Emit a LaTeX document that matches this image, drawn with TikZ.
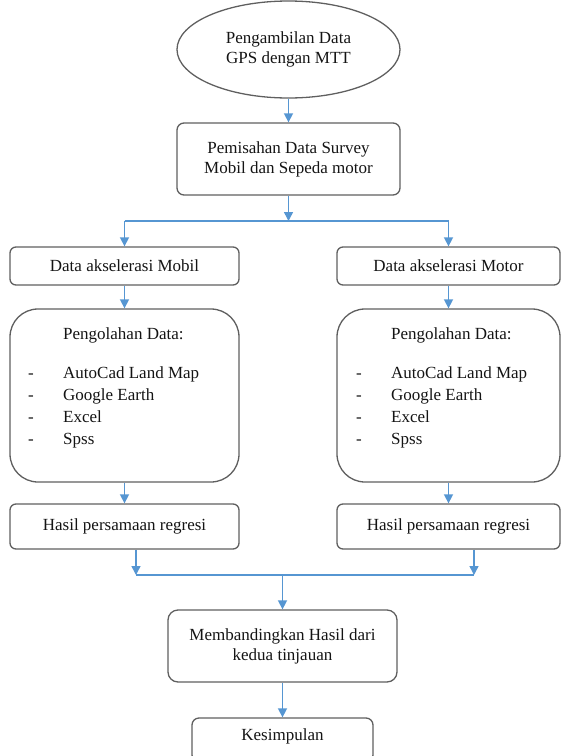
\documentclass[tikz,border=0pt]{standalone}
\usepackage{fontspec}
\setmainfont{Liberation Serif}
\usetikzlibrary{shapes.geometric,arrows.meta}
\definecolor{flowblue}{RGB}{86,150,210}
\definecolor{boxgray}{RGB}{95,95,95}
\definecolor{txtgray}{RGB}{20,20,20}
\tikzset{
    stepbox/.style={draw=boxgray,line width=1.3pt,rounded corners=7pt,text=txtgray,
        align=center,inner sep=0pt,font=\fontsize{17}{20}\selectfont},
    listtext/.style={text=txtgray,inner sep=0pt,anchor=base west,
        font=\fontsize{17}{22.3}\selectfont},
    flow/.style={draw=flowblue,line width=1.5pt,-{Triangle[width=9pt,length=9pt]}},
    link/.style={draw=flowblue,line width=1.5pt},
}
\newcommand{\olahlist}{%
    \begin{tabular}[t]{@{}p{35pt}@{}l@{}}
        & Pengolahan Data:\\[16.7pt]
        - & AutoCad Land Map\\
        - & Google Earth\\
        - & Excel\\
        - & Spss
    \end{tabular}}
\begin{document}
\begin{tikzpicture}[x=1pt,y=-1pt]
        \useasboundingbox (0,0) rectangle (562,756);
        %% start and split
        \node[stepbox,ellipse,minimum width=223pt,minimum height=97pt] (start) at (288.5,49.5) {Pengambilan Data\\GPS dengan MTT};
        \node[stepbox,minimum width=223pt,minimum height=72pt] (sep) at (288.5,159) {Pemisahan Data Survey\\Mobil dan Sepeda motor};
        \coordinate (fork) at (288.5,221);
        %% left column
        \node[stepbox,rounded corners=6pt,minimum width=229pt,minimum height=38pt] (dataA) at (124.5,266) {Data akselerasi Mobil};
        \node[stepbox,rounded corners=28pt,minimum width=229pt,minimum height=173pt] (olahA) at (124.5,395.5) {};
        \node[listtext] (listA) at (28,339) {\olahlist};
        \node[stepbox,rounded corners=6pt,minimum width=229pt,minimum height=45pt] (hasilA) at (124.5,526.5) {Hasil persamaan regresi};
        %% right column
        \node[stepbox,rounded corners=6pt,minimum width=223pt,minimum height=38pt] (dataB) at (448.5,266) {Data akselerasi Motor};
        \node[stepbox,rounded corners=28pt,minimum width=223pt,minimum height=173pt] (olahB) at (448.5,395.5) {};
        \node[listtext] (listB) at (356,339) {\olahlist};
        \node[stepbox,rounded corners=6pt,minimum width=223pt,minimum height=45pt] (hasilB) at (448.5,526.5) {Hasil persamaan regresi};
        %% join and end
        \coordinate (joinA) at (136,575);
        \coordinate (joinB) at (474,575);
        \node[stepbox,rounded corners=10pt,minimum width=229pt,minimum height=72pt] (comp) at (282.5,646) {Membandingkan Hasil dari\\kedua tinjauan};
        \node[stepbox,text height=9pt,text depth=9pt,minimum width=181pt,minimum height=44pt] (kes) at (282.5,740) {Kesimpulan};
        %% connectors
        \draw[flow] (start) -- (sep);
        \draw[flow] (sep) -- (fork);
        \draw[link] (dataA.north |- fork) -- (dataB.north |- fork);
        \draw[flow] (dataA.north |- fork) -- (dataA);
        \draw[flow] (dataB.north |- fork) -- (dataB);
        \draw[flow] (dataA) -- (olahA);
        \draw[flow] (dataB) -- (olahB);
        \draw[flow] (olahA) -- (hasilA);
        \draw[flow] (olahB) -- (hasilB);
        \draw[flow] (hasilA.south -| joinA) -- (joinA);
        \draw[flow] (hasilB.south -| joinB) -- (joinB);
        \draw[link] (joinA) -- (joinB);
        \draw[flow] (comp.north |- joinA) -- (comp);
        \draw[flow] (comp) -- (kes);
    \end{tikzpicture}
\end{document}
